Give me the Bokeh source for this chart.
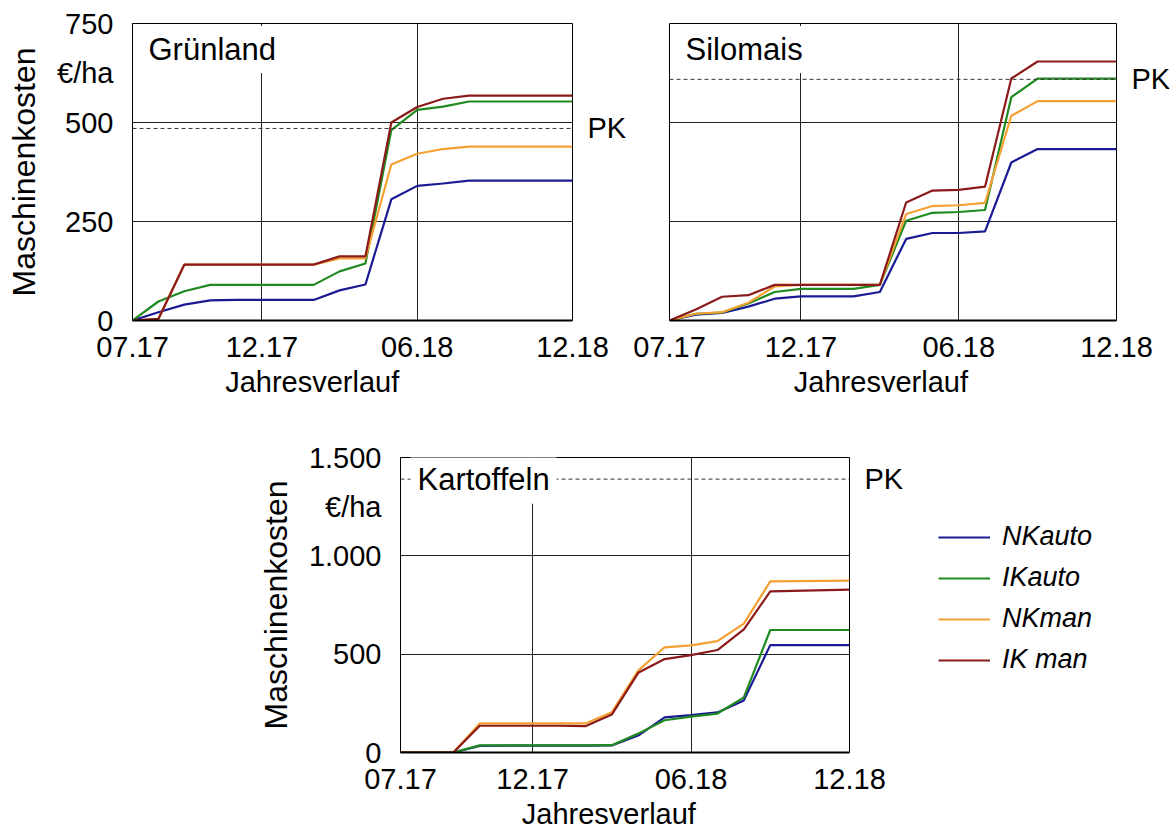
from bokeh.plotting import figure
from bokeh.layouts import column, row
from bokeh.models import (Range1d, FixedTicker, Span, Label, Legend, LegendItem, Spacer,
                          LinearAxis)
from bokeh.embed import file_html
from bokeh.resources import INLINE

# ---------------- data ----------------
months = [0, 1, 2, 3, 4, 5, 6, 7, 8, 9, 10, 11, 12, 13, 14, 17]   # months since 07.17
x_ticks = [0, 5, 11, 17]
x_tick_labels = ["07.17", "12.17", "06.18", "12.18"]

series_names = ["NKauto", "IKauto", "NKman", "IK man"]
series_colors = ["#1a1a94", "#1f8a1f", "#f5a032", "#8b1a1a"]

gruen_nkauto = [0, 21, 40, 51, 52, 52, 52, 52, 76, 91, 306, 340, 346, 353, 353, 353]
gruen_ikauto = [0, 48, 74, 90, 90, 90, 90, 90, 124, 144, 481, 532, 540, 553, 553, 553]
gruen_nkman = [0, 4, 141, 141, 141, 141, 141, 141, 157, 157, 394, 421, 433, 439, 439, 439]
gruen_ikman = [0, 4, 141, 141, 141, 141, 141, 141, 162, 162, 500, 539, 560, 568, 568, 568]
gruen_pk = 485

silo_nkauto = [0, 15, 19, 35, 55, 61, 61, 61, 72, 206, 221, 221, 225, 399, 433, 433]
silo_ikauto = [0, 17, 20, 43, 72, 80, 80, 80, 90, 252, 272, 274, 279, 564, 611, 611]
silo_nkman = [0, 17, 21, 45, 86, 90, 90, 90, 90, 269, 289, 291, 297, 517, 554, 554]
silo_ikman = [0, 28, 60, 64, 90, 90, 90, 90, 90, 298, 328, 330, 338, 611, 654, 654]
silo_pk = 609

kart_nkauto = [0, 0, 0, 34, 35, 35, 35, 35, 36, 86, 179, 190, 204, 265, 546, 546]
kart_ikauto = [0, 0, 0, 36, 36, 36, 36, 36, 37, 96, 164, 182, 198, 280, 623, 623]
kart_nkman = [0, 0, 0, 148, 148, 148, 148, 148, 204, 416, 535, 545, 566, 655, 870, 874]
kart_ikman = [0, 0, 0, 136, 136, 136, 136, 134, 193, 405, 475, 495, 521, 626, 819, 828]
kart_pk = 1390

top_y_ticks = [0, 250, 500, 625, 750]
top_y_labels = ["0", "250", "500", "€/ha", "750"]
top_y_grid = [250, 500]
bot_y_ticks = [0, 500, 1000, 1250, 1500]
bot_y_labels = ["0", "500", "1.000", "€/ha", "1.500"]
bot_y_grid = [500, 1000]

FONT = "Liberation Sans"
FS = "29px"
NB = "\u00a0"
LW = 2.2


def make_panel(width, height, bl, br, bt, bb, ymax, yticks, ylabels, ygrid,
               series, pk, title, show_y, xlabel_pad, title_mid=False):
    p = figure(width=width, height=height, output_backend="svg", toolbar_location=None,
               x_range=Range1d(0, 17), y_range=Range1d(0, ymax),
               min_border_left=bl, min_border_right=br, min_border_top=bt, min_border_bottom=bb,
               background_fill_color="white", border_fill_color="white")
    p.outline_line_color = "black"
    p.outline_line_width = 1
    xa = p.below[0]
    ya = p.left[0]
    # x axis
    xa.ticker = FixedTicker(ticks=x_ticks)
    xa.major_label_overrides = {t: l for t, l in zip(x_ticks, x_tick_labels)}
    xa.axis_label = "Jahresverlauf" + NB * xlabel_pad
    # y axis
    ya.ticker = FixedTicker(ticks=yticks)
    ya.major_label_overrides = {t: l for t, l in zip(yticks, ylabels)}
    ya.axis_label = "Maschinenkosten"
    for ax in (xa, ya):
        ax.major_tick_line_color = None
        ax.minor_tick_line_color = None
        ax.major_label_text_font = FONT
        ax.major_label_text_font_size = FS
        ax.major_label_text_color = "black"
        ax.axis_label_text_font = FONT
        ax.axis_label_text_font_size = FS
        ax.axis_label_text_font_style = "normal"
        ax.axis_label_text_color = "black"
    ya.axis_label_text_font_size = "32px"
    xa.axis_line_width = 2
    xa.axis_line_color = "black"
    ya.axis_line_color = "black"
    xa.major_label_standoff = 10
    xa.axis_label_standoff = 6
    ya.major_label_standoff = 13
    ya.axis_label_standoff = 12
    if not show_y:
        ya.visible = False
    # grid
    p.xgrid.ticker = FixedTicker(ticks=[5, 11])
    p.ygrid.ticker = FixedTicker(ticks=ygrid)
    for g in (p.xgrid[0], p.ygrid[0]):
        g.grid_line_color = "#222222"
        g.grid_line_width = 1
        g.grid_line_alpha = 1

    renderers = []
    for vals, col in zip(series, series_colors):
        r = p.line(months, vals, line_color=col, line_width=LW)
        renderers.append(r)

    p.add_layout(Span(location=pk, dimension="width", line_color="#333333",
                      line_width=1, line_dash="4 3"))
    if title_mid:
        p.add_layout(Label(x=0, y=pk, x_offset=10, text=title, text_baseline="middle",
                           text_align="left", text_font=FONT, text_font_size="31px",
                           text_color="black", background_fill_color="white", padding=7))
    else:
        p.add_layout(Label(x=0, y=ymax, x_offset=10, y_offset=-26, text=title,
                           text_baseline="middle", text_align="left", text_font=FONT,
                           text_font_size="31px", text_color="black",
                           background_fill_color="white", padding=6))
    # PK marker as a right-hand axis with a single tick
    ra = LinearAxis(ticker=FixedTicker(ticks=[pk]), major_label_overrides={pk: "PK"},
                    axis_line_color=None, major_tick_line_color=None,
                    minor_tick_line_color=None, major_label_standoff=9,
                    major_label_text_font=FONT, major_label_text_font_size=FS,
                    major_label_text_color="black")
    p.add_layout(ra, "right")
    return p, renderers


p1, _ = make_panel(629, 420, 132, 50, 23, 100, 750, top_y_ticks, top_y_labels, top_y_grid,
                   [gruen_nkauto, gruen_ikauto, gruen_nkman, gruen_ikman], gruen_pk,
                   "Grünland", True, 10)
p2, _ = make_panel(544, 420, 40, 57, 23, 100, 750, top_y_ticks, top_y_labels, top_y_grid,
                   [silo_nkauto, silo_ikauto, silo_nkman, silo_ikman], silo_pk,
                   "Silomais", False, 3)
p3, rs = make_panel(669, 416, 160, 60, 37, 84, 1500, bot_y_ticks, bot_y_labels, bot_y_grid,
                    [kart_nkauto, kart_ikauto, kart_nkman, kart_ikman], kart_pk,
                    "Kartoffeln", True, 4, title_mid=True)

# legend panel (its own small figure next to the Kartoffeln panel)
nan = float("nan")
pl = figure(width=264, height=200, output_backend="svg", toolbar_location=None,
            x_axis_location=None, y_axis_location=None,
            min_border_left=29, min_border_right=0, min_border_top=0, min_border_bottom=0,
            x_range=Range1d(0, 1), y_range=Range1d(0, 1))
pl.outline_line_color = None
pl.xgrid.visible = False
pl.ygrid.visible = False
leg_rs = [pl.line([nan], [nan], line_color=c, line_width=LW) for c in series_colors]
legend = Legend(items=[LegendItem(label=n, renderers=[r]) for n, r in zip(series_names, leg_rs)],
                location="top_left", glyph_width=52, glyph_height=30, spacing=10,
                padding=0, margin=0, border_line_color=None, background_fill_alpha=0,
                label_standoff=12, label_height=30,
                label_text_font=FONT, label_text_font_size="27px",
                label_text_font_style="italic", label_text_color="black")
pl.add_layout(legend)

layout = column(row(p1, p2),
                row(Spacer(width=240, height=416), p3,
                    column(Spacer(width=264, height=101), pl)))

open("out.html", "w").write(file_html(layout, INLINE))
